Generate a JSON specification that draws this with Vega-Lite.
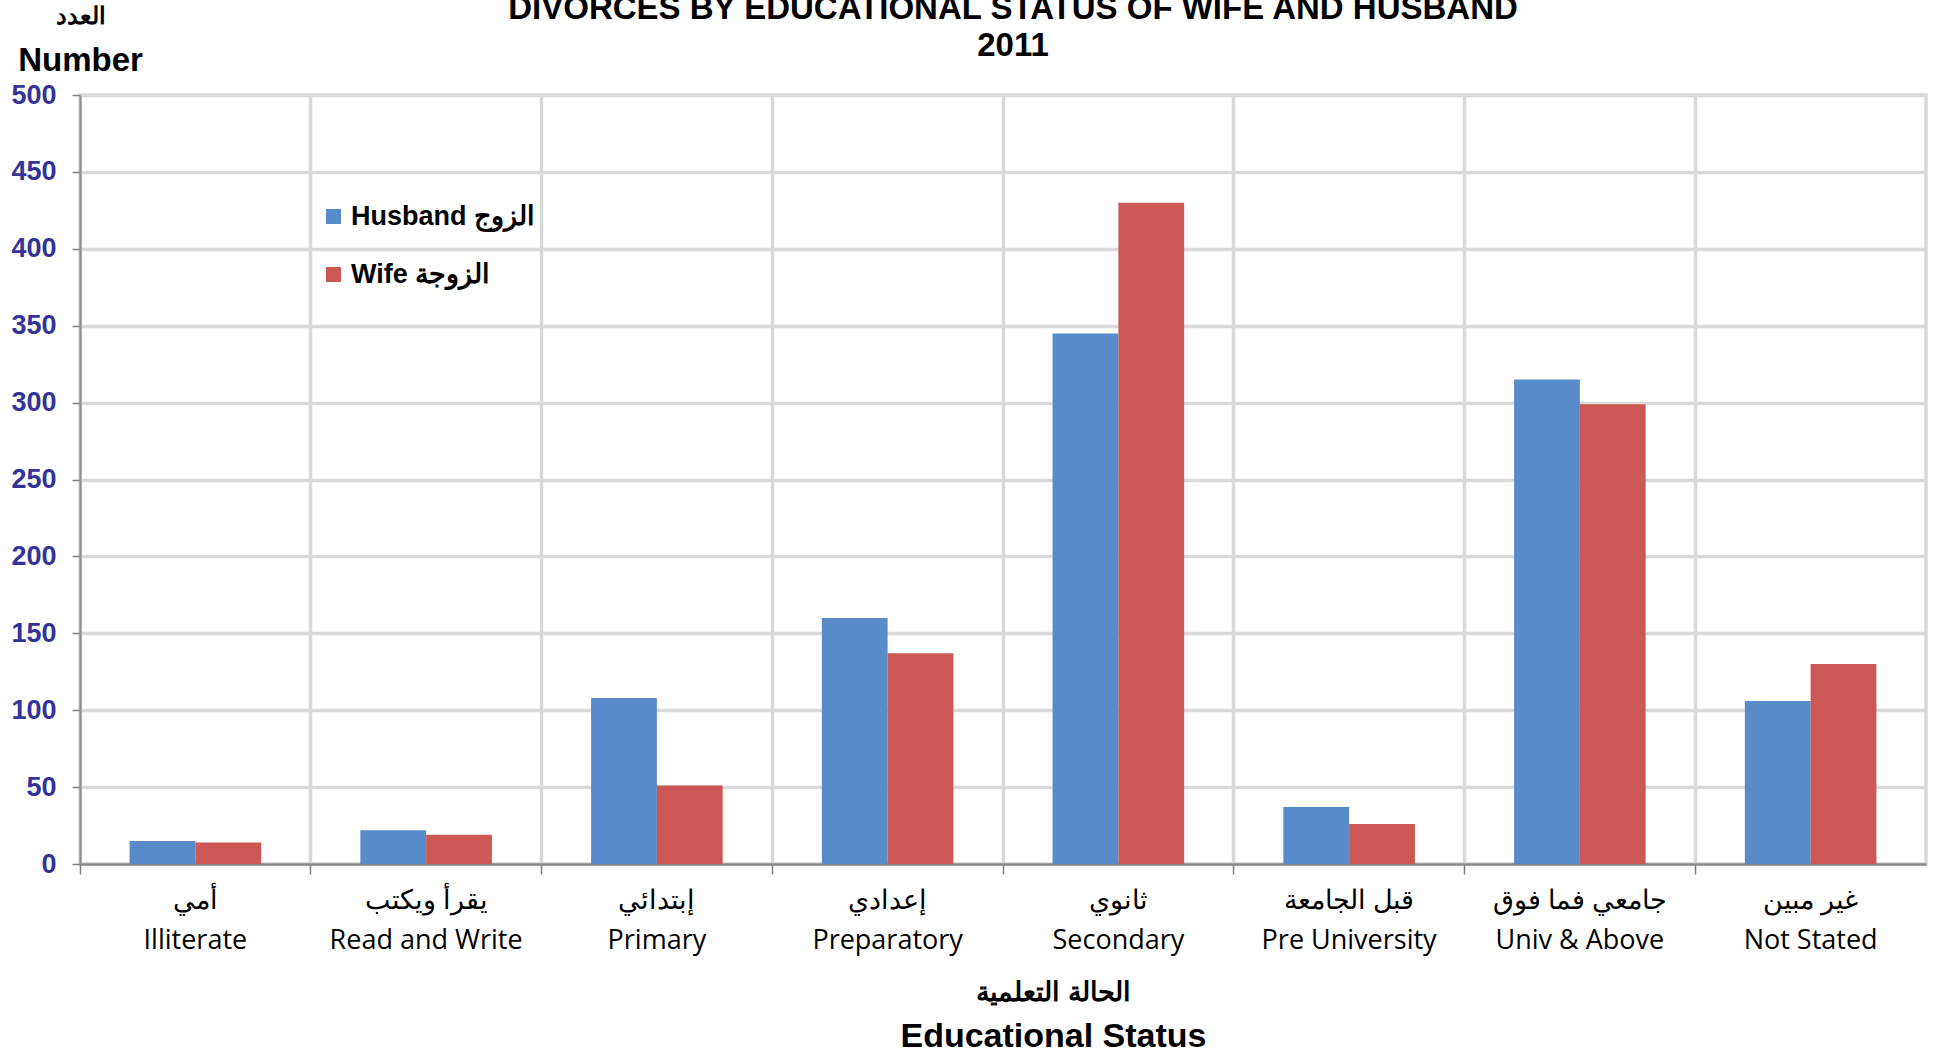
{
  "$schema": "https://vega.github.io/schema/vega-lite/v6.json",
  "autosize": {"type": "none"},
  "padding": {"left": 80, "top": 95, "right": 10, "bottom": 189},
  "width": 1846,
  "height": 769,
  "background": "white",
  "title": {
    "text": ["DIVORCES BY EDUCATIONAL STATUS OF WIFE AND HUSBAND", "2011"],
    "font": "Liberation Sans",
    "fontSize": 33,
    "fontWeight": "bold",
    "color": "#000000",
    "anchor": "middle",
    "dx": 10,
    "offset": 0,
    "dy": 59,
    "lineHeight": 37
  },
  "data": {
    "values": [
      {"cat": "أمي|Illiterate", "series": "Husband الزوج", "value": 15},
      {"cat": "أمي|Illiterate", "series": "Wife الزوجة", "value": 14},
      {"cat": "يقرأ ويكتب|Read and Write", "series": "Husband الزوج", "value": 22},
      {"cat": "يقرأ ويكتب|Read and Write", "series": "Wife الزوجة", "value": 19},
      {"cat": "إبتدائي|Primary", "series": "Husband الزوج", "value": 108},
      {"cat": "إبتدائي|Primary", "series": "Wife الزوجة", "value": 51},
      {"cat": "إعدادي|Preparatory", "series": "Husband الزوج", "value": 160},
      {"cat": "إعدادي|Preparatory", "series": "Wife الزوجة", "value": 137},
      {"cat": "ثانوي|Secondary", "series": "Husband الزوج", "value": 345},
      {"cat": "ثانوي|Secondary", "series": "Wife الزوجة", "value": 430},
      {"cat": "قبل الجامعة|Pre University", "series": "Husband الزوج", "value": 37},
      {"cat": "قبل الجامعة|Pre University", "series": "Wife الزوجة", "value": 26},
      {"cat": "جامعي فما فوق|Univ & Above", "series": "Husband الزوج", "value": 315},
      {"cat": "جامعي فما فوق|Univ & Above", "series": "Wife الزوجة", "value": 299},
      {"cat": "غير مبين|Not Stated", "series": "Husband الزوج", "value": 106},
      {"cat": "غير مبين|Not Stated", "series": "Wife الزوجة", "value": 130}
    ]
  },
  "layer": [
    {
      "transform": [{"filter": {"field": "series", "equal": "Husband الزوج"}}],
      "mark": {"type": "bar"},
      "encoding": {
        "x": {
          "field": "cat",
          "type": "nominal",
          "sort": null,
          "scale": {"paddingInner": 0, "paddingOuter": 0},
          "axis": {
            "orient": "bottom",
            "bandPosition": 0,
            "labelAngle": 0,
            "labelExpr": "split(datum.label, '|')",
            "labelFont": "Open Sans",
            "labelFontSize": 27,
            "labelColor": "#000000",
            "labelLineHeight": 40,
            "labelPadding": 13,
            "labelBound": false,
            "labelOverlap": false,
            "labelLimit": 400,
            "tickSize": 10,
            "tickColor": "#808080",
            "tickWidth": 1.5,
            "domainColor": "#8C8C8C",
            "domainWidth": 2.5,
            "grid": true,
            "gridColor": "#D9D9D9",
            "gridWidth": 3.5,
            "title": "Educational Status",
            "titleFont": "Liberation Sans",
            "titleFontSize": 34,
            "titleFontWeight": "bold",
            "titleColor": "#000000",
            "titleAnchor": "start",
            "titleAlign": "center",
            "titleBaseline": "alphabetic",
            "titleX": 973,
            "titleY": 182
          }
        },
        "xOffset": {
          "field": "series",
          "type": "nominal",
          "scale": {"domain": ["Husband الزوج", "Wife الزوجة"], "paddingInner": 0, "paddingOuter": 0.754}
        },
        "y": {
          "field": "value",
          "type": "quantitative",
          "scale": {"domain": [0, 500], "nice": false},
          "axis": {
            "orient": "left",
            "values": [0, 50, 100, 150, 200, 250, 300, 350, 400, 450, 500],
            "labelFont": "Liberation Sans",
            "labelFontSize": 27,
            "labelFontWeight": "bold",
            "labelColor": "#333399",
            "labelPadding": 16,
            "tickSize": 8,
            "tickColor": "#808080",
            "tickWidth": 1.5,
            "domainColor": "#8C8C8C",
            "domainWidth": 2,
            "gridColor": "#D9D9D9",
            "gridWidth": 3.5,
            "title": "Number",
            "titleFont": "Liberation Sans",
            "titleFontSize": 33,
            "titleFontWeight": "bold",
            "titleColor": "#000000",
            "titleAngle": 0,
            "titleAlign": "center",
            "titleBaseline": "alphabetic",
            "titleX": 0,
            "titleY": -25
          }
        },
        "color": {
          "field": "series",
          "type": "nominal",
          "scale": {"domain": ["Husband الزوج", "Wife الزوجة"], "range": ["#578BCA", "#CC5755"]},
          "legend": {
            "title": null,
            "orient": "none",
            "legendX": 240,
            "legendY": 108,
            "padding": 0,
            "symbolType": "square",
            "symbolSize": 225,
            "symbolStrokeWidth": 0,
            "symbolOpacity": 1,
            "labelFont": "Liberation Sans",
            "labelFontSize": 27,
            "labelFontWeight": "bold",
            "labelColor": "#000000",
            "labelOffset": 4,
            "labelLimit": 400,
            "rowPadding": 30
          }
        }
      }
    },
    {
      "transform": [{"filter": {"field": "series", "equal": "Wife الزوجة"}}],
      "mark": {"type": "bar"},
      "encoding": {
        "x": {
          "field": "cat",
          "type": "nominal",
          "sort": null,
          "scale": {"paddingInner": 0, "paddingOuter": 0},
          "axis": {
            "orient": "top",
            "labels": false,
            "ticks": false,
            "domain": false,
            "grid": false,
            "title": "الحالة التعلمية",
            "titleFont": "Liberation Sans",
            "titleFontSize": 27,
            "titleFontWeight": "bold",
            "titleColor": "#000000",
            "titleAnchor": "start",
            "titleAlign": "center",
            "titleBaseline": "alphabetic",
            "titleX": 973,
            "titleY": 905
          }
        },
        "xOffset": {
          "field": "series",
          "type": "nominal",
          "scale": {"domain": ["Husband الزوج", "Wife الزوجة"], "paddingInner": 0, "paddingOuter": 0.754}
        },
        "y": {
          "field": "value",
          "type": "quantitative",
          "scale": {"domain": [0, 500], "nice": false},
          "axis": {
            "orient": "right",
            "labels": false,
            "ticks": false,
            "domain": false,
            "grid": false,
            "title": "العدد",
            "titleFont": "Liberation Sans",
            "titleFontSize": 24,
            "titleFontWeight": "bold",
            "titleColor": "#000000",
            "titleAngle": 0,
            "titleAlign": "center",
            "titleBaseline": "alphabetic",
            "titleX": -1846,
            "titleY": -72
          }
        },
        "color": {
          "field": "series",
          "type": "nominal",
          "scale": {"domain": ["Husband الزوج", "Wife الزوجة"], "range": ["#578BCA", "#CC5755"]}
        }
      }
    }
  ],
  "resolve": {
    "scale": {"x": "independent", "y": "independent", "xOffset": "independent"},
    "axis": {"x": "independent", "y": "independent"}
  },
  "config": {
    "view": {"stroke": "#D9D9D9", "strokeWidth": 3.5}
  }
}
